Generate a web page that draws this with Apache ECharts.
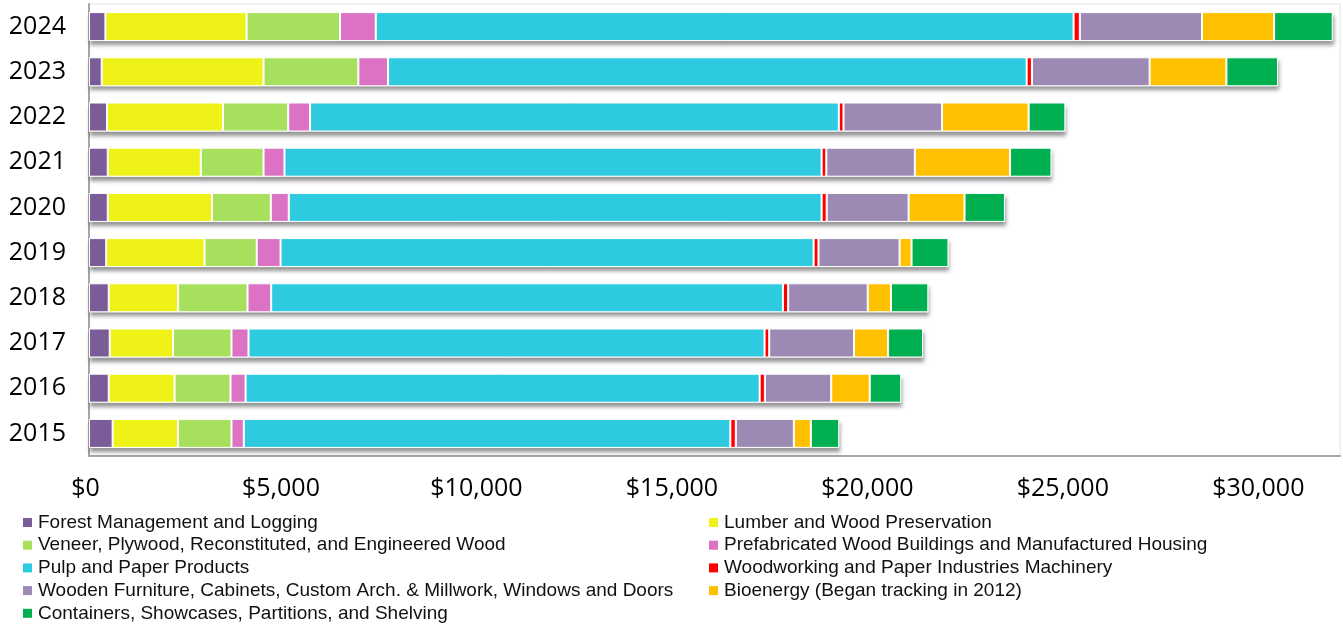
<!DOCTYPE html>
<html>
<head>
<meta charset="utf-8">
<script src="https://cdn.jsdelivr.net/npm/echarts@6/dist/echarts.min.js"></script>
<style>
  html, body { margin: 0; padding: 0; background: #ffffff; }
  #chart { width: 1343px; height: 629px; }
</style>
</head>
<body>
<div id="chart"></div>
<script>
// Years, bottom row first (2015 at the bottom, 2024 at the top)
const years = ['2015', '2016', '2017', '2018', '2019', '2020', '2021', '2022', '2023', '2024'];

// Contribution by sector, in dollars, one value per year above
const forestLogging   = [605, 505, 530, 505, 440, 480, 480, 460, 325, 420];
const lumberPreserv   = [1670, 1685, 1620, 1775, 2515, 2665, 2380, 2965, 4140, 3610];
const veneerPlywood   = [1370, 1430, 1495, 1775, 1335, 1505, 1605, 1670, 2425, 2390];
const prefabHousing   = [315, 385, 435, 605, 610, 460, 535, 560, 760, 915];
const pulpPaper       = [12445, 13150, 13200, 13090, 13635, 13630, 13740, 13525, 16335, 17850];
const machinery       = [140, 135, 120, 135, 125, 130, 120, 120, 135, 160];
const woodFurniture   = [1485, 1695, 2170, 2035, 2075, 2095, 2265, 2520, 3010, 3125];
const bioenergy       = [435, 985, 870, 595, 305, 1430, 2435, 2215, 1965, 1845];
const containers      = [725, 805, 895, 955, 945, 1035, 1060, 940, 1320, 1500];

// x-axis tick values
const xTicks = [0, 5000, 10000, 15000, 20000, 25000, 30000];

const sectorNames = [
  'Forest Management and Logging',
  'Lumber and Wood Preservation',
  'Veneer, Plywood, Reconstituted, and Engineered Wood',
  'Prefabricated Wood Buildings and Manufactured Housing',
  'Pulp and Paper Products',
  'Woodworking and Paper Industries Machinery',
  'Wooden Furniture, Cabinets, Custom Arch. & Millwork, Windows and Doors',
  'Bioenergy (Began tracking in 2012)',
  'Containers, Showcases, Partitions, and Shelving'
];
const sectorValues = [
  forestLogging, lumberPreserv, veneerPlywood, prefabHousing, pulpPaper,
  machinery, woodFurniture, bioenergy, containers
];
const sectorColors = [
  '#7a5c98', '#eef216', '#a6e05c', '#db72c4', '#2ecadf',
  '#ff0000', '#9c8ab4', '#ffc000', '#00b050'
];

// Year totals: a white backdrop bar behind each stack carries the drop shadow,
// so the shadow never bleeds across the white gaps between segments.
const yearTotals = years.map((_, j) => sectorValues.reduce((s, arr) => s + arr[j], 0));

const BAR_W = 29;

const series = [{
  name: 'backdrop',
  type: 'bar',
  barWidth: BAR_W,
  barGap: '-100%',
  z: 1,
  silent: true,
  data: yearTotals,
  itemStyle: {
    color: '#ffffff',
    shadowColor: 'rgba(0,0,0,0.42)',
    shadowBlur: 4,
    shadowOffsetX: 1,
    shadowOffsetY: 4
  },
  emphasis: { disabled: true }
}].concat(sectorNames.map((name, i) => ({
  name: name,
  type: 'bar',
  stack: 'total',
  barWidth: BAR_W,
  barGap: '-100%',
  z: 2,
  data: sectorValues[i],
  itemStyle: {
    color: sectorColors[i],
    borderColor: '#ffffff',
    borderWidth: 1
  },
  emphasis: { disabled: true }
})));

const legendBase = {
  orient: 'vertical',
  icon: 'rect',
  padding: 0,
  height: 116,
  itemWidth: 9,
  itemHeight: 9,
  itemGap: 3.7,
  selectedMode: false,
  itemStyle: { borderWidth: 0 },
  textStyle: {
    fontFamily: 'Liberation Sans, Arial, sans-serif',
    fontSize: 19,
    lineHeight: 19,
    color: '#111111',
    padding: [0, 0, 0, 1]
  }
};

const chart = echarts.init(document.getElementById('chart'), null, { renderer: 'canvas' });
chart.setOption({
  animation: false,
  backgroundColor: '#ffffff',
  grid: {
    left: 89, right: 2, top: 4, bottom: 173,
    show: true,
    borderColor: '#e2e2e2',
    borderWidth: 1,
    backgroundColor: 'transparent'
  },
  xAxis: {
    type: 'value',
    min: 0,
    max: 32000,
    interval: 5000,
    axisLine: { show: true, lineStyle: { color: '#a6a6a6', width: 2 } },
    axisTick: { show: false },
    splitLine: { show: false },
    axisLabel: {
      margin: 20,
      fontFamily: 'Open Sans, sans-serif',
      fontSize: 25,
      color: '#000000',
      padding: [0, 7, 0, 0],
      formatter: v => xTicks.indexOf(v) >= 0 ? '$' + v.toLocaleString('en-US') : ''
    }
  },
  yAxis: {
    type: 'category',
    data: years,
    axisLine: { show: true, lineStyle: { color: '#a6a6a6', width: 2 } },
    axisTick: { show: false },
    splitLine: { show: false },
    axisLabel: {
      margin: 23,
      fontFamily: 'Open Sans, sans-serif',
      fontSize: 25,
      color: '#000000'
    }
  },
  legend: [
    Object.assign({}, legendBase, {
      left: 23, top: 513,
      data: [sectorNames[0], sectorNames[2], sectorNames[4], sectorNames[6], sectorNames[8]]
    }),
    Object.assign({}, legendBase, {
      left: 709, top: 513,
      data: [sectorNames[1], sectorNames[3], sectorNames[5], sectorNames[7]]
    })
  ],
  series: series
});
</script>
</body>
</html>
